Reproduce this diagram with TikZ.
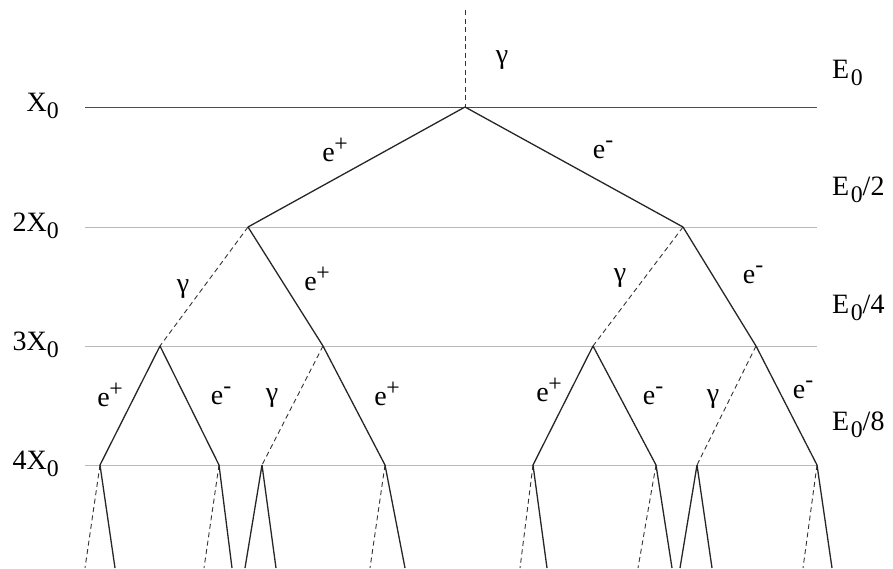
\documentclass[tikz,border=0pt]{standalone}
\usepackage{fontspec}
\setmainfont{Liberation Serif}
\usepackage{graphicx}
\usepackage{tikz}
\usetikzlibrary{positioning}
\newcommand{\zeroidx}{\raisebox{-0.55ex}{\scalebox{0.85}{0}}}
\newcommand{\eplus}{e\kern-0.5pt\raisebox{0.8ex}{\scalebox{0.85}{+}}}
\newcommand{\eminus}{e\raisebox{0.85ex}{\scalebox{0.85}{-}}}

\begin{document}
\begin{tikzpicture}[
  x=1pt,
  y=-1pt,
  font=\fontsize{28}{30}\selectfont,
  radline/.style={draw=gray!55, line width=0.9pt},
  firstline/.style={draw=black!70, line width=0.9pt},
  lepton/.style={draw=black!85, line width=1.3pt},
  photon/.style={draw=black!80, line width=0.9pt, dash pattern=on 5pt off 3.5pt},
  lengthlabel/.style={anchor=east, inner sep=0pt},
  energylabel/.style={anchor=west, inner sep=0pt},
  particle/.style={inner sep=0pt}
]
\useasboundingbox (0,0) rectangle (893,568);

\node[lengthlabel] (len1) at (59,106) {X\zeroidx};
\node[lengthlabel] (len2) at (59,226) {2X\zeroidx};
\node[lengthlabel] (len3) at (59,345) {3X\zeroidx};
\node[lengthlabel] (len4) at (59,464) {4X\zeroidx};

\node[energylabel] (en0) at (832,73) {E\kern1.5pt\zeroidx};
\node[energylabel] (en1) at (832,190) {E\kern1.5pt\zeroidx/2};
\node[energylabel] (en2) at (832,308) {E\kern1.5pt\zeroidx/4};
\node[energylabel] (en3) at (832,425) {E\kern1.5pt\zeroidx/8};

\coordinate (l1w) at (85,107); \coordinate (l1e) at (817,107);
\coordinate (l2w) at (85,227); \coordinate (l2e) at (817,227);
\coordinate (l3w) at (85,346); \coordinate (l3e) at (817,346);
\coordinate (l4w) at (85,465); \coordinate (l4e) at (817,465);
\draw[firstline] (l1w) -- (l1e);
\draw[radline] (l2w) -- (l2e);
\draw[radline] (l3w) -- (l3e);
\draw[radline] (l4w) -- (l4e);

% shower vertices
\coordinate (src) at (465,10);
\coordinate (v0) at (465,107);
\coordinate (v1a) at (248,227);
\coordinate (v1b) at (683,227);
\coordinate (v2a) at (160,346);
\coordinate (v2b) at (323,346);
\coordinate (v2c) at (593,346);
\coordinate (v2d) at (756,346);
\coordinate (v3a) at (100,465);
\coordinate (v3b) at (219,465);
\coordinate (v3c) at (262,465);
\coordinate (v3d) at (385,465);
\coordinate (v3e) at (533,465);
\coordinate (v3f) at (656,465);
\coordinate (v3g) at (697,465);
\coordinate (v3h) at (817,465);
\coordinate (b1) at (85,568);   \coordinate (b2) at (115,568);
\coordinate (b3) at (204,568);  \coordinate (b4) at (232,568);
\coordinate (b5) at (245,568);  \coordinate (b6) at (276,568);
\coordinate (b7) at (370,568);  \coordinate (b8) at (405,568);
\coordinate (b9) at (520,568);  \coordinate (b10) at (547,568);
\coordinate (b11) at (638,568); \coordinate (b12) at (672,568);
\coordinate (b13) at (680,568); \coordinate (b14) at (712,568);
\coordinate (b15) at (803,568); \coordinate (b16) at (832,568);

\draw[photon] (src) -- (v0);
\draw[lepton] (v0) -- (v1a);
\draw[lepton] (v0) -- (v1b);

\draw[photon] (v1a) -- (v2a);
\draw[lepton] (v1a) -- (v2b);
\draw[photon] (v1b) -- (v2c);
\draw[lepton] (v1b) -- (v2d);

\draw[lepton] (v2a) -- (v3a);
\draw[lepton] (v2a) -- (v3b);
\draw[photon] (v2b) -- (v3c);
\draw[lepton] (v2b) -- (v3d);
\draw[lepton] (v2c) -- (v3e);
\draw[lepton] (v2c) -- (v3f);
\draw[photon] (v2d) -- (v3g);
\draw[lepton] (v2d) -- (v3h);

\draw[photon] (v3a) -- (b1);  \draw[lepton] (v3a) -- (b2);
\draw[photon] (v3b) -- (b3);  \draw[lepton] (v3b) -- (b4);
\draw[lepton] (v3c) -- (b5);  \draw[lepton] (v3c) -- (b6);
\draw[photon] (v3d) -- (b7);  \draw[lepton] (v3d) -- (b8);
\draw[photon] (v3e) -- (b9);  \draw[lepton] (v3e) -- (b10);
\draw[photon] (v3f) -- (b11); \draw[lepton] (v3f) -- (b12);
\draw[lepton] (v3g) -- (b13); \draw[lepton] (v3g) -- (b14);
\draw[photon] (v3h) -- (b15); \draw[lepton] (v3h) -- (b16);

% particle labels
\node[particle] (g0) at (502,60) {γ};
\node[particle] (p1) at (335,150) {\eplus};
\node[particle] (m1) at (603,150) {\eminus};
\node[particle] (g1) at (183,289) {γ};
\node[particle] (p2) at (317,279) {\eplus};
\node[particle] (g2) at (620,278) {γ};
\node[particle] (m2) at (753,275) {\eminus};
\node[particle] (p3) at (110,395) {\eplus};
\node[particle] (m3) at (221,396) {\eminus};
\node[particle] (g3) at (272,398) {γ};
\node[particle] (p4) at (387,394) {\eplus};
\node[particle] (p5) at (549,390) {\eplus};
\node[particle] (m4) at (653,396) {\eminus};
\node[particle] (g4) at (713,399) {γ};
\node[particle] (m5) at (803,390) {\eminus};
\end{tikzpicture}
\end{document}
